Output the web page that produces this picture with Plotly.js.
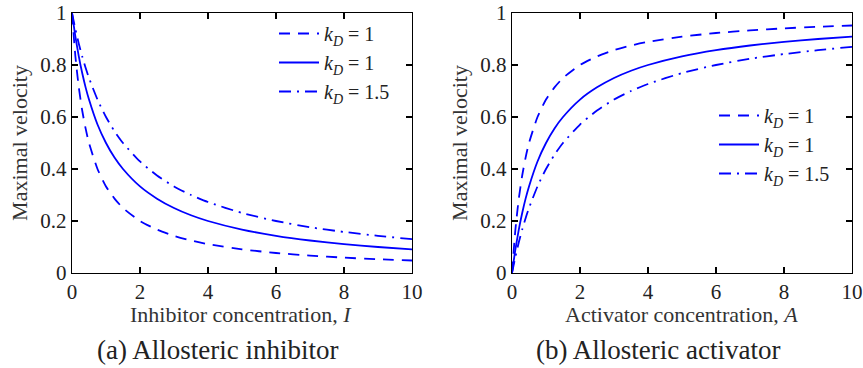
<!DOCTYPE html>
<html><head><meta charset="utf-8">
<script src="https://cdn.plot.ly/plotly-3.0.1.min.js"></script>
<style>body{margin:0;padding:0;background:#fff}#plot{width:863px;height:368px}</style>
</head><body><div id="plot"></div>
<script>
// concentration values (x)
var conc = [0, 0.1, 0.2, 0.3, 0.4, 0.5, 0.75, 1, 1.25, 1.5, 2, 2.5, 3, 3.5, 4, 5, 6, 7, 8, 9, 10];
// (a) inhibitor
var inhDashed  = [1, 0.833, 0.714, 0.625, 0.556, 0.5, 0.4, 0.333, 0.286, 0.25, 0.2, 0.167, 0.143, 0.125, 0.111, 0.091, 0.077, 0.067, 0.059, 0.053, 0.048];
var inhSolid   = [1, 0.909, 0.833, 0.769, 0.714, 0.667, 0.571, 0.5, 0.444, 0.4, 0.333, 0.286, 0.25, 0.222, 0.2, 0.167, 0.143, 0.125, 0.111, 0.1, 0.091];
var inhDashDot = [1, 0.938, 0.882, 0.833, 0.789, 0.75, 0.667, 0.6, 0.545, 0.5, 0.429, 0.375, 0.333, 0.3, 0.273, 0.231, 0.2, 0.176, 0.158, 0.143, 0.13];
// (b) activator
var actDashed  = [0, 0.167, 0.286, 0.375, 0.444, 0.5, 0.6, 0.667, 0.714, 0.75, 0.8, 0.833, 0.857, 0.875, 0.889, 0.909, 0.923, 0.933, 0.941, 0.947, 0.952];
var actSolid   = [0, 0.091, 0.167, 0.231, 0.286, 0.333, 0.429, 0.5, 0.556, 0.6, 0.667, 0.714, 0.75, 0.778, 0.8, 0.833, 0.857, 0.875, 0.889, 0.9, 0.909];
var actDashDot = [0, 0.062, 0.118, 0.167, 0.211, 0.25, 0.333, 0.4, 0.455, 0.5, 0.571, 0.625, 0.667, 0.7, 0.727, 0.769, 0.8, 0.824, 0.842, 0.857, 0.87];
var seriesNames = ['<i>k</i><sub><i>D</i></sub> = 1', '<i>k</i><sub><i>D</i></sub> = 1', '<i>k</i><sub><i>D</i></sub> = 1.5'];
var xTitles = ['Inhibitor concentration, <i>I</i>', 'Activator concentration, <i>A</i>'];
var yTitle = 'Maximal velocity';
var captions = ['(a) Allosteric inhibitor', '(b) Allosteric activator'];

var blue = '#0000ff';
var dashes = ['11px,8px', 'solid', '12px,6px,2px,6px'];
var FONT = '"Liberation Serif", "Times New Roman", serif';

function mk(y, i, xa, ya, leg) {
  return {x: conc, y: y, type: 'scatter', mode: 'lines', name: seriesNames[i],
    xaxis: xa, yaxis: ya, legend: leg,
    line: {color: blue, width: 1.8, dash: dashes[i], shape: 'spline', smoothing: 0.6}};
}
var data = [
  mk(inhDashed, 0, 'x', 'y', 'legend'), mk(inhSolid, 1, 'x', 'y', 'legend'), mk(inhDashDot, 2, 'x', 'y', 'legend'),
  mk(actDashed, 0, 'x2', 'y2', 'legend2'), mk(actSolid, 1, 'x2', 'y2', 'legend2'), mk(actDashDot, 2, 'x2', 'y2', 'legend2')
];
function ax(extra) {
  var a = {showgrid: false, zeroline: false, showline: true, linecolor: '#000', linewidth: 1.2,
    mirror: 'ticks', ticks: 'inside', ticklen: 6, tickwidth: 1.2, tickcolor: '#000', automargin: false,
    tickfont: {family: FONT, size: 21, color: '#222'}};
  for (var k in extra) a[k] = extra[k];
  return a;
}
var yd = [(368-273)/368, (368-13)/368];
var legFont = {family: FONT, size: 20, color: '#222'};
var titleFont = {family: FONT, size: 22, color: '#333'};
var layout = {
  width: 863, height: 368, margin: {l: 0, r: 0, t: 0, b: 0},
  paper_bgcolor: '#fff', plot_bgcolor: '#fff', showlegend: true,
  font: {family: FONT, size: 21, color: '#222'},
  xaxis: ax({domain: [72/863, 412/863], range: [0, 10], dtick: 2, tick0: 0, anchor: 'y'}),
  yaxis: ax({domain: yd, range: [0, 1], dtick: 0.2, tick0: 0, anchor: 'x',
    title: {text: yTitle, font: titleFont, standoff: 6}}),
  xaxis2: ax({domain: [512/863, 852/863], range: [0, 10], dtick: 2, tick0: 0, anchor: 'y2'}),
  yaxis2: ax({domain: yd, range: [0, 1], dtick: 0.2, tick0: 0, anchor: 'x2',
    title: {text: yTitle, font: titleFont, standoff: 6}}),
  legend: {x: 395/863, y: (368-14)/368, xanchor: 'right', yanchor: 'top', bgcolor: 'rgba(0,0,0,0)',
    font: legFont, tracegroupgap: 0, itemwidth: 40},
  legend2: {x: 835/863, y: (368-96)/368, xanchor: 'right', yanchor: 'top', bgcolor: 'rgba(0,0,0,0)',
    font: legFont, tracegroupgap: 0, itemwidth: 40},
  annotations: [
    {text: xTitles[0], xref: 'paper', yref: 'paper', x: 241/863, y: (368-314)/368, xanchor: 'center', yanchor: 'middle', showarrow: false, font: titleFont},
    {text: xTitles[1], xref: 'paper', yref: 'paper', x: 681/863, y: (368-314)/368, xanchor: 'center', yanchor: 'middle', showarrow: false, font: titleFont},
    {text: captions[0], xref: 'paper', yref: 'paper', x: 217/863, y: 18/368, xanchor: 'center', yanchor: 'middle', showarrow: false, font: {family: FONT, size: 27, color: '#222'}},
    {text: captions[1], xref: 'paper', yref: 'paper', x: 658/863, y: 18/368, xanchor: 'center', yanchor: 'middle', showarrow: false, font: {family: FONT, size: 27, color: '#222'}}
  ]
};
Plotly.newPlot('plot', data, layout, {staticPlot: true});
</script></body></html>
